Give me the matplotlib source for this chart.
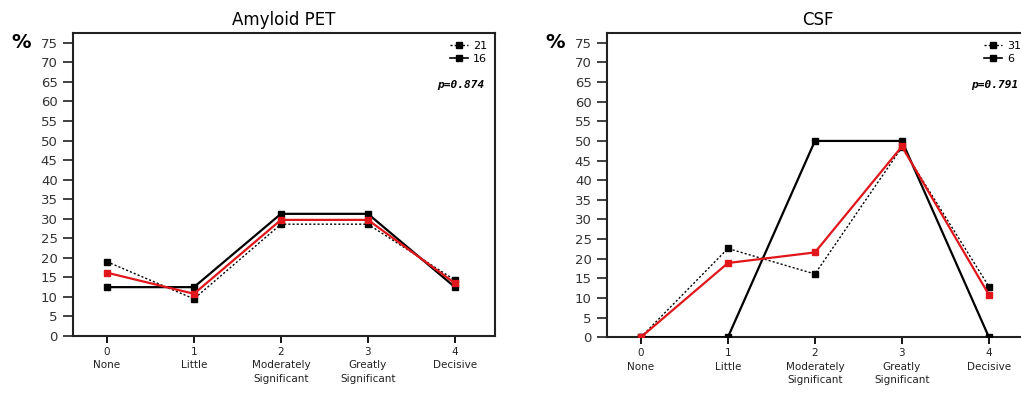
import matplotlib
matplotlib.use("Agg")
import matplotlib.pyplot as plt
from matplotlib.lines import Line2D

# response categories
levels = [0, 1, 2, 3, 4]
level_names = ["None", "Little", "Moderately\nSignificant", "Greatly\nSignificant", "Decisive"]

# Amyloid PET (% of raters)
pet_dotted = [19.0, 9.5, 28.6, 28.6, 14.3]
pet_solid = [12.5, 12.5, 31.25, 31.25, 12.5]
pet_total = [16.2, 10.8, 29.7, 29.7, 13.5]
pet_n = ["21", "16"]
pet_p = "p=0.874"

# CSF (% of raters)
csf_dotted = [0.0, 22.6, 16.1, 48.4, 12.9]
csf_solid = [0.0, 0.0, 50.0, 50.0, 0.0]
csf_total = [0.0, 18.9, 21.6, 48.6, 10.8]
csf_n = ["31", "6"]
csf_p = "p=0.791"

yticks = list(range(0, 80, 5))
tick_labels = [f"{v}\n{n}" for v, n in zip(levels, level_names)]

plt.rcParams["font.family"] = ["DejaVu Sans"]

fig = plt.figure(figsize=(10.21, 3.93), dpi=100)
ax1 = fig.add_axes([0.0715, 0.145, 0.4133, 0.771])
ax2 = fig.add_axes([0.5945, 0.142, 0.4133, 0.774])


def draw_panel(ax, title, dotted, solid, total, n_labels, p_text):
    ax.plot(levels, dotted, color="black", ls=(0, (1.5, 1.5)), lw=1.0,
            marker="s", ms=5, zorder=3)
    ax.plot(levels, solid, color="black", ls="-", lw=1.6,
            marker="s", ms=5, zorder=3)
    ax.plot(levels, total, color="#e0161b", ls="-", lw=1.6,
            marker="s", ms=5, zorder=4)

    ax.set_xlim(-0.39, 4.46)
    ax.set_ylim(0, 77.5)
    ax.set_yticks(yticks)
    ax.set_xticks(levels)
    ax.set_xticklabels(tick_labels, fontsize=7.5, color="#222222",
                       linespacing=1.4)
    ax.tick_params(axis="y", direction="out", length=7, width=1.3,
                   labelsize=9.5, colors="#333333", pad=4)
    ax.tick_params(axis="x", direction="out", length=5, width=1.3, pad=3)
    for sp in ax.spines.values():
        sp.set_linewidth(1.5)
        sp.set_color("#222222")

    ax.set_title(title, fontsize=12, pad=6)
    ax.text(-0.145, 0.97, "%", transform=ax.transAxes, fontsize=14,
            fontweight="bold", ha="left", va="center")

    handles = [
        Line2D([], [], color="black", ls=(0, (1.5, 1.5)), lw=1.0,
               marker="s", ms=5),
        Line2D([], [], color="black", ls="-", lw=1.2, marker="s", ms=5),
    ]
    ax.legend(handles, n_labels, loc="upper right", frameon=False,
              fontsize=8, handlelength=1.6, handletextpad=0.5,
              labelspacing=0.25, borderaxespad=0.3)
    ax.text(0.975, 0.83, p_text, transform=ax.transAxes, fontsize=8,
            fontweight="bold", style="italic", family="DejaVu Sans Mono",
            ha="right", va="center")


draw_panel(ax1, "Amyloid PET", pet_dotted, pet_solid, pet_total, pet_n, pet_p)
draw_panel(ax2, "CSF", csf_dotted, csf_solid, csf_total, csf_n, csf_p)

fig.savefig("out.png", dpi=100)
